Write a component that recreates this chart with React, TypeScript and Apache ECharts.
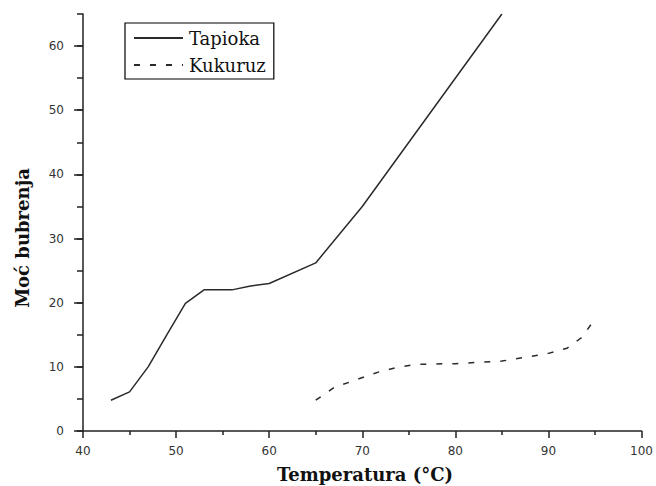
import React, { useEffect, useRef } from "react";
import * as echarts from "echarts";

const tapiokaX = [43, 45, 47, 49, 51, 53, 56, 58, 60, 65, 70, 85];
const tapiokaY = [4.8, 6.1, 10, 15, 19.9, 22, 22, 22.6, 23, 26.2, 35, 65];

const kukuruzX = [65, 67, 69, 70.5, 72, 74, 76, 80, 85, 88, 90, 92, 93.6, 95];
const kukuruzY = [4.8, 6.8, 7.8, 8.6, 9.3, 10.0, 10.4, 10.5, 10.9, 11.6, 12.1, 12.9, 14.6, 17.5];

const yMajorTicks = [0, 10, 20, 30, 40, 50, 60];
const xTitle = "Temperatura (°C)";
const yTitle = "Moć bubrenja";

export default function App() {
  const ref = useRef<HTMLDivElement>(null);
  useEffect(() => {
    if (!ref.current) return;
    const chart = echarts.init(ref.current, undefined, { renderer: "svg" });
    const axisColor = "#222";
    const labelStyle = { color: "#333", fontFamily: "DejaVu Sans", fontSize: 12 };
    chart.setOption({
      animation: false,
      backgroundColor: "#fff",
      grid: { left: 83, right: 13, top: 14, bottom: 55, containLabel: false },
      legend: {
        left: 125,
        top: 23,
        orient: "vertical",
        borderColor: "#000",
        borderWidth: 1.2,
        padding: [5, 8, 4, 8],
        itemGap: 7,
        itemWidth: 49,
        itemHeight: 14,
        itemStyle: { opacity: 0 },
        textStyle: { color: "#111", fontFamily: "DejaVu Serif", fontSize: 18, lineHeight: 20, padding: [0, 0, 0, 1] },
        data: ["Tapioka", "Kukuruz"],
      },
      xAxis: {
        type: "value",
        min: 40,
        max: 100,
        interval: 10,
        splitLine: { show: false },
        axisLine: { lineStyle: { color: axisColor, width: 1.5 } },
        axisTick: { inside: false, length: 7, lineStyle: { color: axisColor, width: 1.5 } },
        minorTick: { show: true, splitNumber: 2, length: 4, lineStyle: { color: axisColor, width: 1.5 } },
        axisLabel: { ...labelStyle, margin: 14 },
      },
      yAxis: [
        {
          type: "value",
          min: 0,
          max: 65,
          interval: 5,
          splitLine: { show: false },
          axisLine: { show: true, lineStyle: { color: axisColor, width: 1.5 } },
          axisTick: { show: true, length: 6, lineStyle: { color: axisColor, width: 1.5 } },
          axisLabel: {
            ...labelStyle,
            margin: 19,
            customValues: yMajorTicks,
          },
        },
        {
          type: "value",
          position: "left",
          min: 0,
          max: 65,
          interval: 5,
          splitLine: { show: false },
          axisLine: { show: false },
          axisTick: { show: true, length: 9, customValues: yMajorTicks, lineStyle: { color: axisColor, width: 1.5 } },
          axisLabel: { show: false },
        },
      ],
      graphic: [
        {
          type: "text",
          x: 365,
          y: 474,
          style: {
            text: xTitle,
            font: "bold 18px 'DejaVu Serif'",
            fill: "#111",
            textAlign: "center",
            textVerticalAlign: "middle",
          },
        },
        {
          type: "text",
          x: 22,
          y: 238,
          rotation: Math.PI / 2,
          style: {
            text: yTitle,
            font: "bold 18px 'DejaVu Serif'",
            fill: "#111",
            textAlign: "center",
            textVerticalAlign: "middle",
          },
        },
      ],
      series: [
        {
          name: "Tapioka",
          type: "line",
          data: tapiokaX.map((x, i) => [x, tapiokaY[i]]),
          showSymbol: false,
          symbol: "none",
          lineStyle: { color: "#2a2a2a", width: 1.5 },
          itemStyle: { color: "#2a2a2a" },
        },
        {
          name: "Kukuruz",
          type: "line",
          data: kukuruzX.map((x, i) => [x, kukuruzY[i]]),
          showSymbol: false,
          symbol: "none",
          lineStyle: { color: "#2a2a2a", width: 1.5, type: [6, 10] },
          itemStyle: { color: "#2a2a2a" },
        },
      ],
    });
    return () => chart.dispose();
  }, []);
  return <div ref={ref} style={{ width: 656, height: 486, position: "absolute", left: 0, top: 0 }} />;
}
